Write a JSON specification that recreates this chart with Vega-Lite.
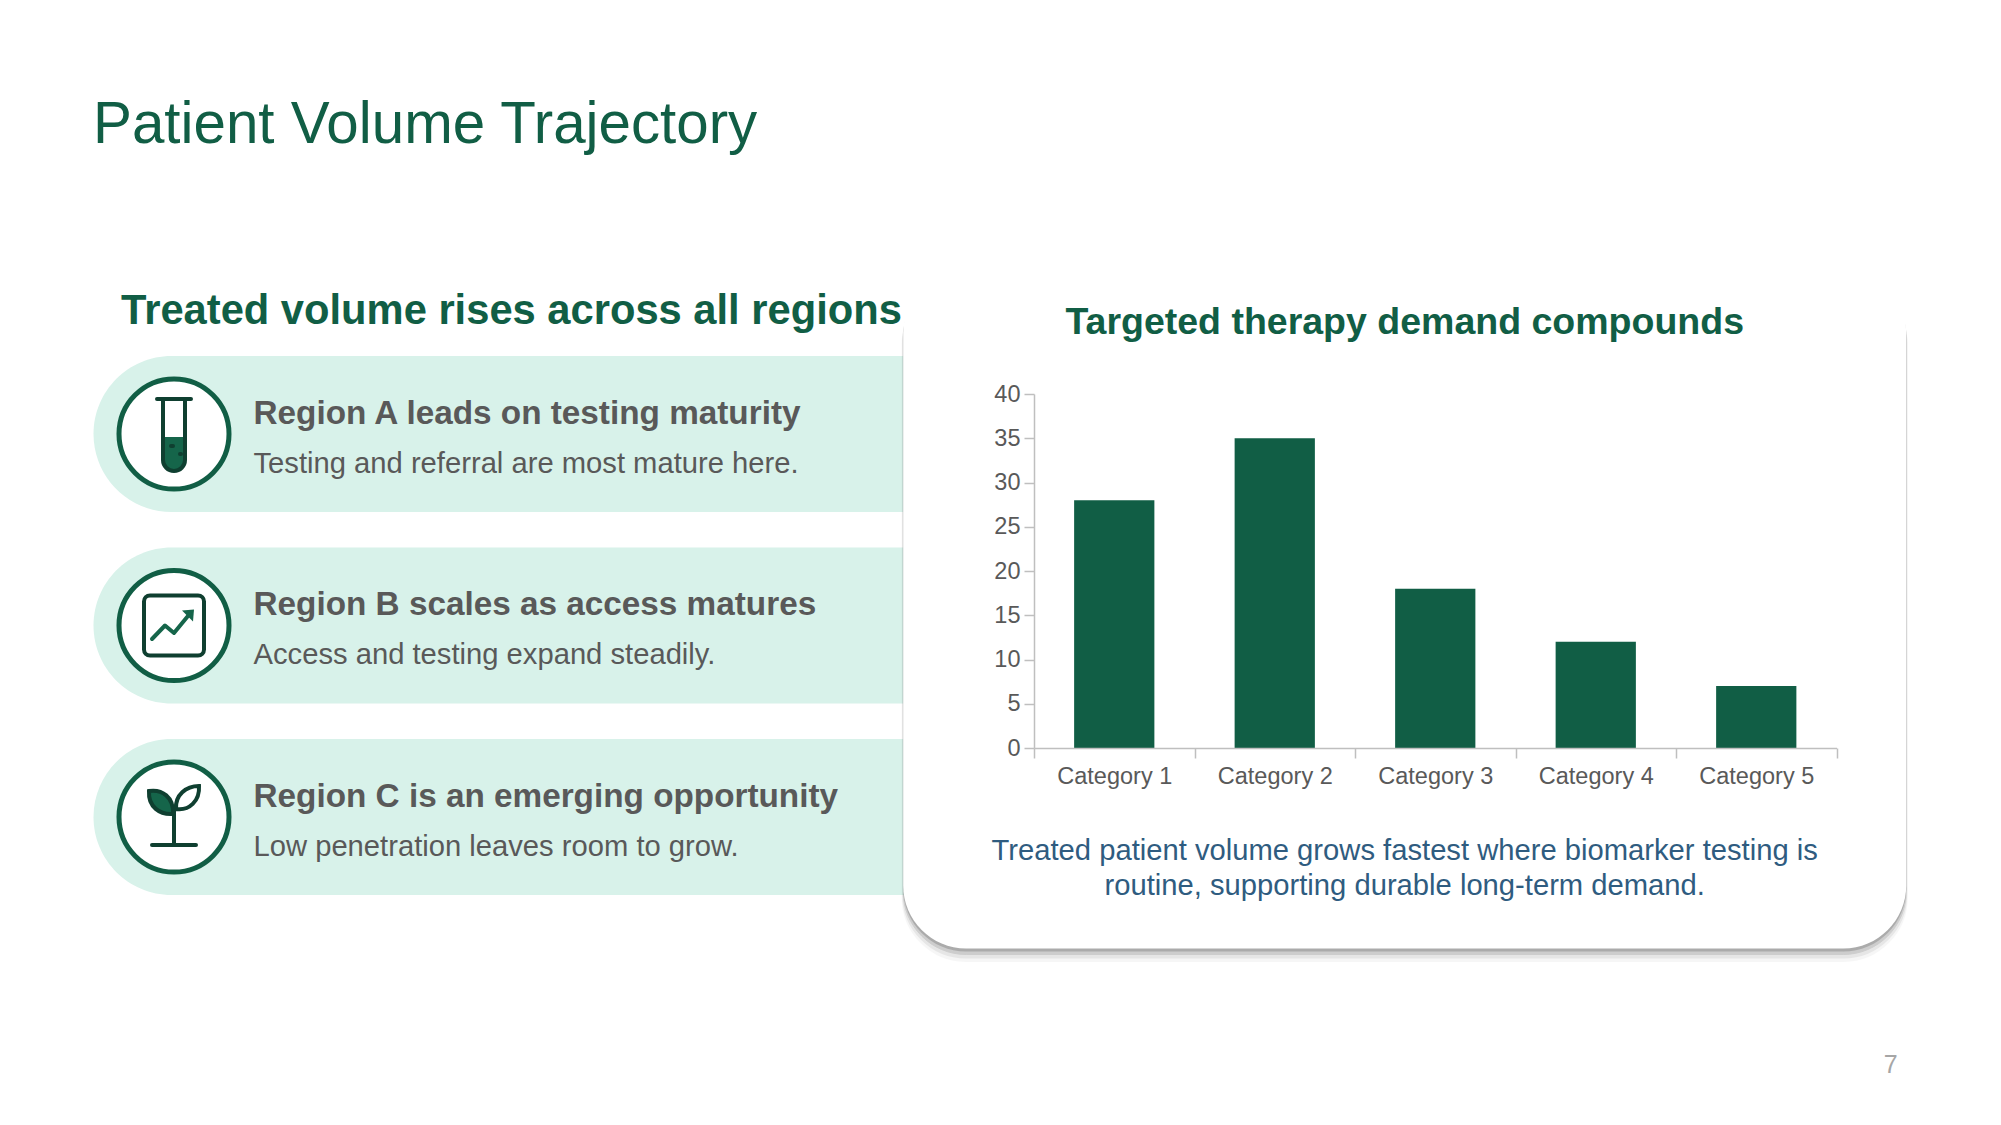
{
  "$schema": "https://vega.github.io/schema/vega-lite/v6.json",
  "width": 802.5,
  "height": 354,
  "autosize": "none",
  "padding": {"left": 1034, "top": 394, "right": 164.5, "bottom": 377},
  "background": "white",
  "config": {"view": {"stroke": null}, "text": {"font": "Liberation Sans"}},
  "datasets": {
    "regions": [
      {"region": "Region A", "heading": "Region A leads on testing maturity", "detail": "Testing and referral are most mature here."},
      {"region": "Region B", "heading": "Region B scales as access matures", "detail": "Access and testing expand steadily."},
      {"region": "Region C", "heading": "Region C is an emerging opportunity", "detail": "Low penetration leaves room to grow."}
    ],
    "demand": [
      {"category": "Category 1", "value": 28},
      {"category": "Category 2", "value": 35},
      {"category": "Category 3", "value": 18},
      {"category": "Category 4", "value": 12},
      {"category": "Category 5", "value": 7}
    ]
  },
  "layer": [
    {
      "data": {"name": "regions"},
      "mark": {"type": "rect", "fill": "#d8f2ea", "cornerRadiusTopLeft": 78, "cornerRadiusBottomLeft": 78},
      "encoding": {
        "x": {"datum": "pill", "type": "nominal", "axis": null, "scale": {"type": "band", "range": [-940.5, -37], "paddingInner": 0, "paddingOuter": 0}},
        "y": {"field": "region", "type": "nominal", "axis": null, "scale": {"type": "band", "range": [-38, 501], "paddingInner": 0.1854, "paddingOuter": 0}}
      }
    },
    {
      "data": {"values": [{"panel": "card"}]},
      "encoding": {
        "x": {"field": "panel", "type": "nominal", "axis": null, "scale": {"type": "band", "range": [-130.8, 872.2], "paddingInner": 0, "paddingOuter": 0}},
        "y": {"field": "panel", "type": "nominal", "axis": null, "scale": {"type": "band", "range": [-124, 554.5], "paddingInner": 0, "paddingOuter": 0}}
      },
      "layer": [
        {"mark": {"type": "rect", "cornerRadius": 63, "fill": "#777777", "opacity": 0.06, "yOffset": 12, "stroke": "#777777", "strokeWidth": 3}},
        {"mark": {"type": "rect", "cornerRadius": 63, "fill": "#777777", "opacity": 0.12, "yOffset": 9, "stroke": "#777777", "strokeWidth": 2}},
        {"mark": {"type": "rect", "cornerRadius": 63, "fill": "#777777", "opacity": 0.22, "yOffset": 6, "stroke": "#777777", "strokeWidth": 1}},
        {"mark": {"type": "rect", "cornerRadius": 63, "fill": "#777777", "opacity": 0.4, "yOffset": 3}},
        {"mark": {"type": "rect", "cornerRadius": 63, "fill": "white"}}
      ]
    },
    {
      "data": {"name": "demand"},
      "mark": {"type": "bar", "fill": "#115e45", "width": {"band": 0.5}},
      "encoding": {
        "x": {
          "field": "category",
          "type": "nominal",
          "title": null,
          "scale": {"paddingInner": 0, "paddingOuter": 0},
          "axis": {"zindex": 1, "labelAngle": 0, "tickBand": "extent", "labelFontSize": 23.5, "labelFont": "Liberation Sans", "labelColor": "#595959", "labelPadding": 6, "tickSize": 10, "tickColor": "#bfbfbf", "domainColor": "#bfbfbf", "tickWidth": 1.5, "domainWidth": 1.5, "grid": false}
        },
        "y": {
          "field": "value",
          "type": "quantitative",
          "title": null,
          "scale": {"domain": [0, 40]},
          "axis": {"zindex": 1, "values": [0, 5, 10, 15, 20, 25, 30, 35, 40], "labelFontSize": 23.5, "labelFont": "Liberation Sans", "labelColor": "#595959", "labelPadding": 4, "tickSize": 10, "tickColor": "#bfbfbf", "domainColor": "#bfbfbf", "tickWidth": 1.5, "domainWidth": 1.5, "grid": false}
        }
      }
    },
    {
      "data": {"name": "regions"},
      "mark": {"type": "point", "shape": "circle", "size": 12100, "fill": "white", "stroke": "#115e45", "strokeWidth": 5, "filled": false, "opacity": 1},
      "encoding": {
        "x": {"field": "region", "type": "nominal", "axis": null, "scale": {"type": "point", "range": [-860, -860]}},
        "y": {"field": "region", "type": "nominal", "axis": null, "scale": {"type": "point", "range": [40, 423], "padding": 0}}
      }
    },
    {
      "data": {"name": "regions"},
      "mark": {"type": "point", "size": 4, "filled": true, "fill": "#15654a", "strokeWidth": 0, "opacity": 1},
      "encoding": {
        "x": {"field": "region", "type": "nominal", "axis": null, "scale": {"type": "point", "range": [-860, -860]}},
        "y": {"field": "region", "type": "nominal", "axis": null, "scale": {"type": "point", "range": [40, 423], "padding": 0}},
        "shape": {
          "field": "region",
          "type": "nominal",
          "legend": null,
          "scale": {"range": [
            "M-10,3 H10 V26 A10,10 0 0 1 -10,26 Z",
            "M8,-15 L20,-16 L19,-4 Z",
            "M-25,-26 C-12,-28 0,-20 -1,-3 C-14,-2 -26,-10 -25,-26 Z"
          ]}
        }
      }
    },
    {
      "data": {"name": "regions"},
      "mark": {"type": "point", "size": 4, "filled": false, "stroke": "#0f3f30", "strokeWidth": 4, "strokeCap": "round", "opacity": 1},
      "encoding": {
        "x": {"field": "region", "type": "nominal", "axis": null, "scale": {"type": "point", "range": [-860, -860]}},
        "y": {"field": "region", "type": "nominal", "axis": null, "scale": {"type": "point", "range": [40, 423], "padding": 0}},
        "shape": {
          "field": "region",
          "type": "nominal",
          "legend": null,
          "scale": {"range": [
            "M-17,-35 H17 M-11,-35 V26 A11,11 0 0 0 11,26 V-35 M-3,12 h2 M6,20 h1",
            "M-24,-30 H24 A6,6 0 0 1 30,-24 V24 A6,6 0 0 1 24,30 H-24 A6,6 0 0 1 -30,24 V-24 A6,6 0 0 1 -24,-30 Z",
            "M-22,28 H22 M0,28 V-8 M-25,-26 C-12,-28 0,-20 -1,-3 C-14,-2 -26,-10 -25,-26 Z M25,-31 C12,-31 1,-22 2,-8 C15,-6 26,-16 25,-31 Z"
          ]}
        }
      }
    },
    {
      "data": {"name": "regions"},
      "mark": {"type": "point", "size": 4, "filled": false, "stroke": "#15654a", "strokeWidth": 4, "strokeCap": "round", "strokeJoin": "round", "opacity": 1},
      "encoding": {
        "x": {"field": "region", "type": "nominal", "axis": null, "scale": {"type": "point", "range": [-860, -860]}},
        "y": {"field": "region", "type": "nominal", "axis": null, "scale": {"type": "point", "range": [40, 423], "padding": 0}},
        "shape": {
          "field": "region",
          "type": "nominal",
          "legend": null,
          "scale": {"range": ["M0,0", "M-22,13.5 L-9,0 L0,7.5 L16,-12", "M0,0"]}
        }
      }
    },
    {
      "data": {"name": "regions"},
      "mark": {"type": "text", "align": "left", "baseline": "alphabetic", "fontSize": 33.3, "fontWeight": "bold", "fill": "#595959"},
      "encoding": {
        "text": {"field": "heading"},
        "x": {"field": "region", "type": "nominal", "axis": null, "scale": {"type": "point", "range": [-780.5, -780.5]}},
        "y": {"field": "region", "type": "nominal", "axis": null, "scale": {"type": "point", "range": [29.5, 412.5], "padding": 0}}
      }
    },
    {
      "data": {"name": "regions"},
      "mark": {"type": "text", "align": "left", "baseline": "alphabetic", "fontSize": 29.2, "fill": "#595959"},
      "encoding": {
        "text": {"field": "detail"},
        "x": {"field": "region", "type": "nominal", "axis": null, "scale": {"type": "point", "range": [-780.5, -780.5]}},
        "y": {"field": "region", "type": "nominal", "axis": null, "scale": {"type": "point", "range": [78.5, 461.5], "padding": 0}}
      }
    },
    {
      "data": {"values": [{"label": "Patient Volume Trajectory"}]},
      "mark": {"type": "text", "align": "left", "baseline": "alphabetic", "fontSize": 58.3, "fill": "#115e45"},
      "encoding": {
        "text": {"field": "label"},
        "x": {"field": "label", "type": "nominal", "axis": null, "scale": {"type": "point", "range": [-941, -941]}},
        "y": {"field": "label", "type": "nominal", "axis": null, "scale": {"type": "point", "range": [-251.5, -251.5]}}
      }
    },
    {
      "data": {"values": [{"label": "Treated volume rises across all regions"}]},
      "mark": {"type": "text", "align": "left", "baseline": "alphabetic", "fontSize": 41.7, "fontWeight": "bold", "fill": "#115e45"},
      "encoding": {
        "text": {"field": "label"},
        "x": {"field": "label", "type": "nominal", "axis": null, "scale": {"type": "point", "range": [-913, -913]}},
        "y": {"field": "label", "type": "nominal", "axis": null, "scale": {"type": "point", "range": [-70.5, -70.5]}}
      }
    },
    {
      "data": {"values": [{"label": "Targeted therapy demand compounds"}]},
      "mark": {"type": "text", "align": "center", "baseline": "alphabetic", "fontSize": 37.5, "fontWeight": "bold", "fill": "#115e45"},
      "encoding": {
        "text": {"field": "label"},
        "x": {"field": "label", "type": "nominal", "axis": null, "scale": {"type": "point", "range": [370.7, 370.7]}},
        "y": {"field": "label", "type": "nominal", "axis": null, "scale": {"type": "point", "range": [-60, -60]}}
      }
    },
    {
      "data": {"values": [
        {"label": "Treated patient volume grows fastest where biomarker testing is"},
        {"label": "routine, supporting durable long-term demand."}
      ]},
      "mark": {"type": "text", "align": "center", "baseline": "alphabetic", "fontSize": 29.2, "fill": "#2f5c80"},
      "encoding": {
        "text": {"field": "label"},
        "x": {"field": "label", "type": "nominal", "axis": null, "scale": {"type": "point", "range": [370.7, 370.7]}},
        "y": {"field": "label", "type": "nominal", "axis": null, "sort": null, "scale": {"type": "point", "range": [466, 501], "padding": 0}}
      }
    },
    {
      "data": {"values": [{"label": "7"}]},
      "mark": {"type": "text", "align": "center", "baseline": "alphabetic", "fontSize": 25, "fill": "#a6a6a6"},
      "encoding": {
        "text": {"field": "label"},
        "x": {"field": "label", "type": "nominal", "axis": null, "scale": {"type": "point", "range": [856.7, 856.7]}},
        "y": {"field": "label", "type": "nominal", "axis": null, "scale": {"type": "point", "range": [678.5, 678.5]}}
      }
    }
  ],
  "resolve": {"scale": {"x": "independent", "y": "independent", "shape": "independent"}}
}
